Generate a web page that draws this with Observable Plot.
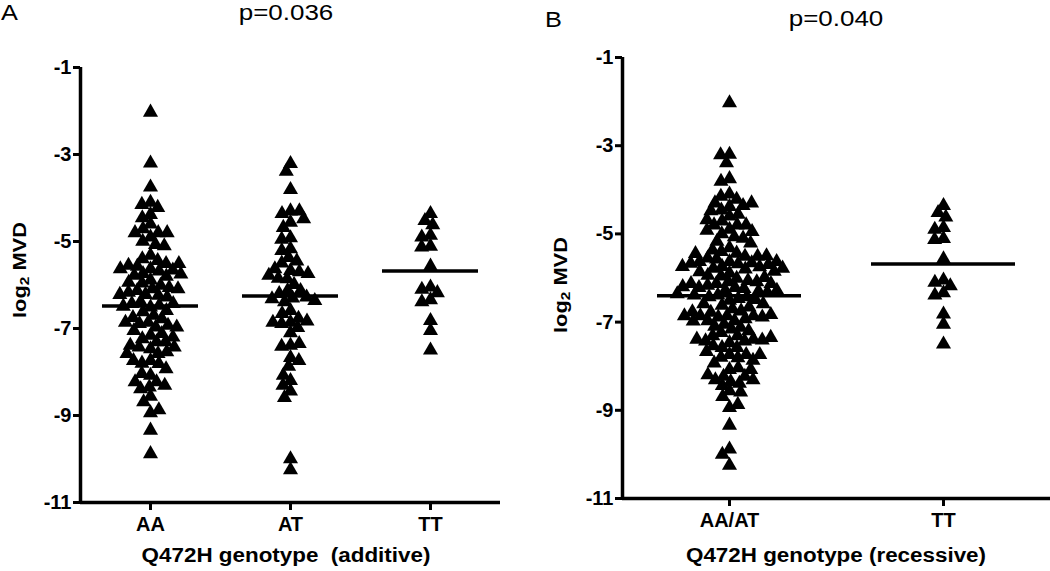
<!DOCTYPE html>
<html>
<head>
<meta charset="utf-8">
<script src="https://cdn.jsdelivr.net/npm/d3@7"></script>
<script src="https://cdn.jsdelivr.net/npm/@observablehq/plot@0.6"></script>
<style>
  html, body { margin: 0; padding: 0; background: #fff; }
  #wrap { position: relative; width: 1050px; height: 571px; overflow: hidden; background: #fff;
          font-family: "Liberation Sans", Arial, Helvetica, sans-serif; color: #000; }
  .panel { position: absolute; top: 0; }
  .t { position: absolute; line-height: 1; white-space: pre; color: #000; }
  .t sub { font-size: 0.7em; vertical-align: -0.25em; line-height: 0; }
</style>
</head>
<body>
<div id="wrap"></div>
<script>
// ---------------- data ----------------
const yTicks = [-1, -3, -5, -7, -9, -11];

const catsA = ["AA", "AT", "TT"];
const catsB = ["AA/AT", "TT"];

const valuesAA = [-2.03, -3.2, -3.75, -4.1, -4.15, -4.22, -4.38, -4.46, -4.6, -4.71, -4.9, -4.8, -4.8, -4.8,
  -5.0, -5.07, -5.1, -5.32, -5.4, -5.44, -5.51, -5.63, -5.74, -5.57, -5.68, -5.8, -5.55, -5.66, -5.78, -5.89,
  -5.51, -5.63, -5.75, -5.96, -6.09, -6.22, -6.01, -6.13, -6.24, -6.06, -6.17, -6.28, -5.94, -6.09, -6.22,
  -6.51, -6.39, -6.47, -6.43, -6.43, -6.49, -6.62, -6.59, -6.7, -6.86, -6.97, -6.89, -6.75, -6.78, -6.93,
  -7.05, -6.86, -6.97, -7.16, -7.12, -7.24, -7.31, -7.47, -7.31, -7.43, -7.58, -7.2, -7.39, -7.54, -7.43,
  -7.58, -7.74, -7.8, -7.81, -7.74, -7.93, -8.08, -8.04, -8.23, -8.35, -8.39, -8.31, -8.23, -8.56, -8.69,
  -8.94, -8.87, -9.34, -9.88];

const valuesAT = [-3.21, -3.39, -3.81, -4.3, -4.36, -4.3, -4.56, -4.48, -4.68, -4.92, -4.95, -5.17, -5.21,
  -5.37, -5.45, -5.5, -5.67, -5.7, -5.63, -5.74, -5.86, -5.78, -5.85, -5.99, -6.13, -6.13, -6.2, -6.3, -6.28,
  -6.32, -6.39, -6.36, -6.59, -6.66, -6.86, -6.77, -6.89, -6.83, -7.1, -6.98, -6.86, -7.39, -7.41, -7.35,
  -7.67, -7.87, -7.74, -8.2, -8.08, -8.31, -8.44, -8.59, -10.0, -10.25];

const valuesTT = [-4.36, -4.52, -4.62, -4.86, -4.9, -5.11, -5.13, -5.57, -6.05, -6.1, -6.18, -6.34, -6.39,
  -6.82, -7.05, -7.5];

const meansA = [-6.48, -6.25, -5.68];
const meansB = [-6.40, -5.68];

const pA = "p=0.036";
const pB = "p=0.040";
const xTitleA = "Q472H genotype  (additive)";
const xTitleB = "Q472H genotype (recessive)";

// ---------------- drawing ----------------
const wrap = document.getElementById("wrap");
const FONT = "Liberation Sans, Arial, Helvetica, sans-serif";

function panel({cats, groups, means, left, width, mL, mR, mT, mB, inset, dodgeR}) {
  const data = groups.flatMap((vals, i) => vals.map(v => ({g: cats[i], v})));
  const meanData = cats.map((g, i) => ({g, v: means[i]}));
  const svg = Plot.plot({
    width, height: 571,
    marginLeft: mL, marginRight: mR, marginTop: mT, marginBottom: mB,
    style: {fontFamily: FONT, background: "transparent", overflow: "visible", color: "#000"},
    fx: {domain: cats, padding: 0, label: null, axis: null},
    x: {domain: [0, 1], axis: null},
    y: {domain: [-11, -1], axis: null},
    marks: [
      Plot.ruleY([-11], {strokeWidth: 3.5, stroke: "#000"}),
      Plot.ruleX([{g: cats[0], x: 0}], {x: "x", fx: "g", strokeWidth: 3.5, stroke: "#000"}),
      Plot.axisY({ticks: yTicks, tickFormat: d => String(d), tickSize: 7, tickPadding: 2,
                  strokeWidth: 3, fontSize: 20, fontWeight: "bold", label: null}),
      Plot.axisFx({anchor: "bottom", tickSize: 8, tickPadding: 6, strokeWidth: 3,
                   fontSize: 20, fontWeight: "bold", label: null}),
      Plot.dot(data, Plot.dodgeX({anchor: "middle", r: dodgeR, padding: 0.5},
                {y: "v", fx: "g", r: 5.6, symbol: "triangle", fill: "#000", stroke: "none"})),
      Plot.tickY(meanData, {y: "v", fx: "g", strokeWidth: 3.5, stroke: "#000",
                            insetLeft: inset, insetRight: inset})
    ]
  });
  const holder = document.createElement("div");
  holder.className = "panel";
  holder.style.left = left + "px";
  holder.appendChild(svg);
  wrap.appendChild(holder);
}

function addText(txt, {x, y, size, weight = "normal", sx = 1, rotate = false, html = false, anchor = "middle"}) {
  const d = document.createElement("div");
  d.className = "t";
  if (html) d.innerHTML = txt; else d.textContent = txt;
  d.style.fontSize = size + "px";
  d.style.fontWeight = weight;
  d.style.left = x + "px";
  if (rotate) {
    d.style.top = y + "px";
    d.style.transform = `translate(-50%,-50%) rotate(-90deg) scaleX(${sx})`;
  } else {
    d.style.top = (y - 0.8465 * size) + "px";
    if (anchor === "middle") {
      d.style.transform = `translateX(-50%) scaleX(${sx})`;
    } else {
      d.style.transformOrigin = "0 0";
      d.style.transform = `scaleX(${sx})`;
    }
  }
  wrap.appendChild(d);
}

panel({cats: catsA, groups: [valuesAA, valuesAT, valuesTT], means: meansA,
       left: 0, width: 525, mL: 80, mR: 25, mT: 67, mB: 69, inset: 22, dodgeR: 4.2});
panel({cats: catsB, groups: [valuesAA.concat(valuesAT), valuesTT], means: meansB,
       left: 525, width: 525, mL: 97, mR: 0, mT: 57, mB: 73, inset: 35, dodgeR: 4.2});

addText("A", {x: 1, y: 21, size: 22, sx: 1.15, anchor: "start"});
addText("B", {x: 545, y: 28, size: 22, sx: 1.15, anchor: "start"});
addText(pA, {x: 286, y: 21, size: 22, sx: 1.18});
addText(pB, {x: 836, y: 27, size: 22, sx: 1.18});
addText(xTitleA, {x: 286, y: 562, size: 20, weight: "bold", sx: 1.12});
addText(xTitleB, {x: 836, y: 562, size: 20, weight: "bold", sx: 1.12});
addText("log<sub>2</sub> MVD", {x: 19, y: 270, size: 19, weight: "bold", sx: 1.15, rotate: true, html: true});
addText("log<sub>2</sub> MVD", {x: 560, y: 285, size: 19, weight: "bold", sx: 1.15, rotate: true, html: true});
</script>
</body>
</html>
